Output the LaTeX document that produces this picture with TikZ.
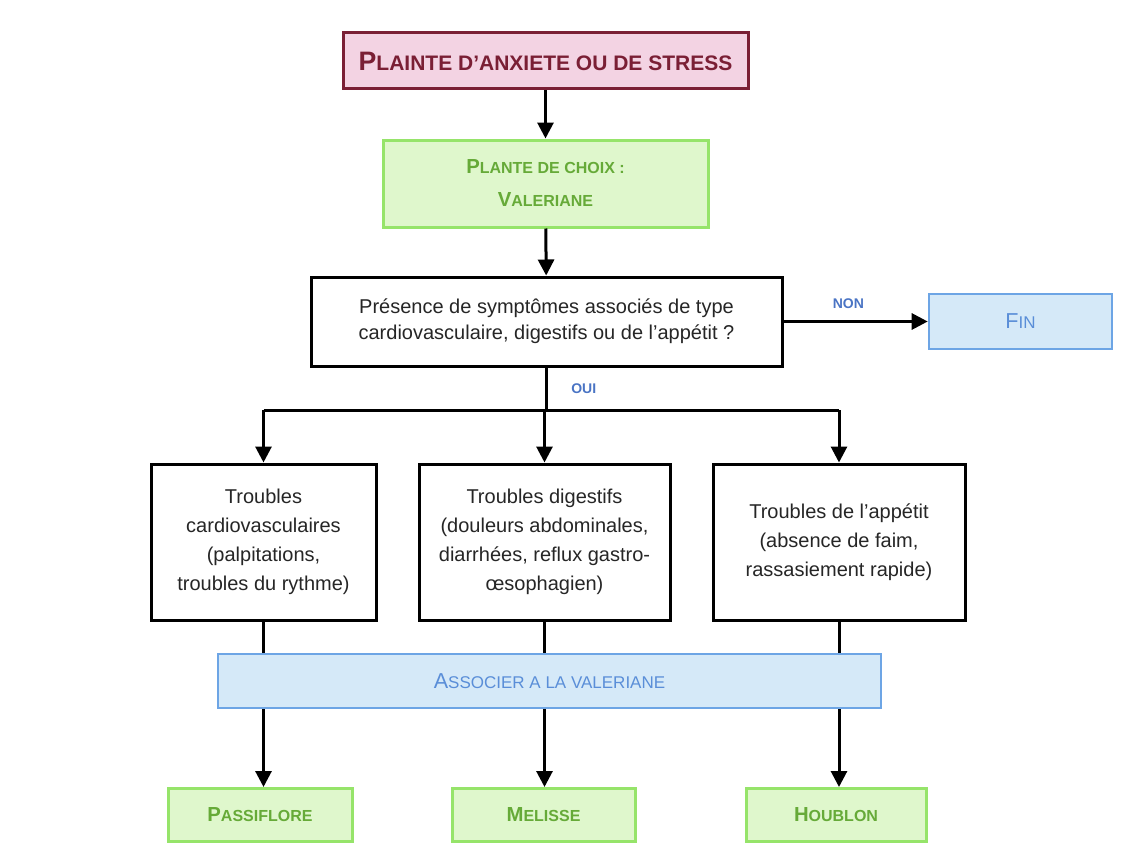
\documentclass[tikz,border=0pt]{standalone}
\usepackage{fontspec}
\setmainfont{Liberation Sans}
\usetikzlibrary{arrows.meta}

\definecolor{rougeplainte}{HTML}{7A1F35}
\definecolor{rosefond}{HTML}{F3D3E3}
\definecolor{vertbord}{HTML}{96E46A}
\definecolor{vertfond}{HTML}{DFF7CC}
\definecolor{verttexte}{HTML}{66AA38}
\definecolor{bleubord}{HTML}{6DA5E5}
\definecolor{bleufond}{HTML}{D5E9F8}
\definecolor{bleutexte}{HTML}{5A8ED8}
\definecolor{bleulabel}{HTML}{4A74C4}

% grande initiale des petites capitales
\newcommand{\grandL}[1]{\scalebox{1.27}{#1}}

\begin{document}
\begin{tikzpicture}[x=1pt,y=-1pt,line width=3pt,>={Triangle[length=16pt,width=16pt]},
        plainte/.style={rectangle,draw=rougeplainte,fill=rosefond,text=rougeplainte,inner sep=0pt,font=\fontsize{21}{25}\selectfont\bfseries},
        plante/.style={rectangle,draw=vertbord,fill=vertfond,text=verttexte,inner sep=0pt,align=center,font=\fontsize{16}{33}\selectfont\bfseries},
        boite/.style={rectangle,draw,fill=white,inner sep=0pt,align=center,text=black!85,font=\fontsize{20}{29}\selectfont},
        bleue/.style={rectangle,draw=bleubord,fill=bleufond,text=bleutexte,inner sep=0pt,line width=2.6pt,font=\fontsize{17}{20}\selectfont},
        reponse/.style={text=bleulabel,font=\fontsize{14}{16}\selectfont\bfseries}]
        \useasboundingbox (0,0) rectangle (1133,843);
        \node[plainte,minimum width=405pt,minimum height=56pt] at (545.5,61) (plainte) {\grandL{P}LAINTE D’ANXIETE OU DE STRESS};
        \node[plante,minimum width=325pt,minimum height=87pt] at (545.5,183.5) (choix) {\grandL{P}LANTE DE CHOIX :\\\grandL{V}ALERIANE};
        \node[boite,minimum width=471pt,minimum height=89pt,font=\fontsize{20}{26}\selectfont] at (546.5,321.5) (question) {Présence de symptômes associés de type\\cardiovasculaire, digestifs ou de l’appétit ?};
        \node[bleue,minimum width=183pt,minimum height=55pt] at (1020.5,321.5) (fin) {\grandL{F}IN};
        \coordinate (embranchement) at (546.5,410);
        \node[boite,minimum width=225pt,minimum height=156pt] at (263.5,542) (cardio) {Troubles\\cardiovasculaires\\(palpitations,\\troubles du rythme)};
        \node[boite,minimum width=251pt,minimum height=156pt] at (544.5,542) (digestif) {Troubles digestifs\\(douleurs abdominales,\\diarrhées, reflux gastro-\\œsophagien)};
        \node[boite,minimum width=252pt,minimum height=156pt] at (839,542) (appetit) {Troubles de l’appétit\\(absence de faim,\\rassasiement rapide)};
        \node[bleue,minimum width=663pt,minimum height=54pt] at (549.5,681) (associer) {\grandL{A}SSOCIER A LA VALERIANE};
        \node[plante,minimum width=184pt,minimum height=53pt] at (260,815) (passiflore) {\grandL{P}ASSIFLORE};
        \node[plante,minimum width=183pt,minimum height=53pt] at (543.5,815) (melisse) {\grandL{M}ELISSE};
        \node[plante,minimum width=180pt,minimum height=53pt] at (836,815) (houblon) {\grandL{H}OUBLON};

        \draw[->] (plainte) -- (choix);
        \draw[->] (choix) -- (question);
        \draw[->] (question) -- node[reponse,above=8pt,pos=0.45] (non) {NON} (fin);
        \draw (question) -- node[reponse,right=20pt] (oui) {OUI} (embranchement);
        \draw (cardio.north |- embranchement) -- (appetit.north |- embranchement);
        \foreach \b in {cardio,digestif,appetit}
            \draw[->] (\b.north |- embranchement) -- (\b);
        \foreach \b/\p in {cardio/passiflore,digestif/melisse,appetit/houblon}{
            \draw (\b) -- (\b.south |- associer.north);
            \draw[->] (\b.south |- associer.south) -- (\b.south |- \p.north);
        }
\end{tikzpicture}
\end{document}
